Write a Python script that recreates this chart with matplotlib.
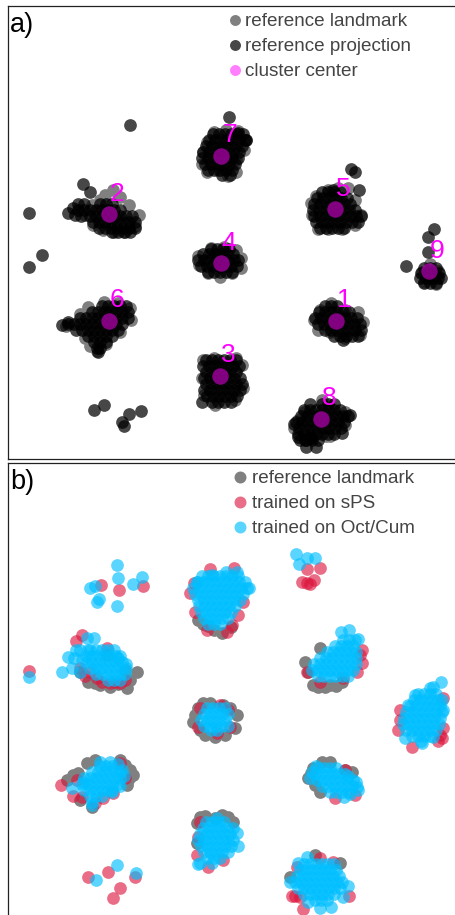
from __future__ import annotations

import matplotlib as mpl
import matplotlib.pyplot as plt
import numpy as np

# embedding coordinates, one row per cluster
A_LANDMARK = [
    (214, 132), (226, 130), (238, 131), (246, 140), (244, 150), (236, 160), (236, 172), (228, 176), (218, 170), (207, 172), (202, 164), (203, 152), (207, 142), (220, 150),
    (105, 195), (113, 190), (120, 197), (129, 205), (139, 215), (135, 226), (125, 232), (114, 232), (103, 230), (93, 225), (85, 215), (92, 205), (100, 200),
    (316, 196), (328, 190), (338, 188), (348, 188), (355, 200), (361, 215), (355, 225), (342, 229), (328, 229), (318, 229), (312, 215), (311, 203),
    (211, 248), (224, 247), (236, 250), (241, 258), (241, 268), (232, 273), (220, 277), (208, 273), (199, 265), (198, 256),
    (430, 264), (422, 272), (438, 271), (424, 282), (436, 284),
    (88, 307), (80, 314), (66, 326), (85, 338), (90, 346), (97, 351), (106, 344), (120, 332), (131, 320), (130, 308), (118, 303), (104, 302),
    (320, 310), (331, 303), (345, 310), (358, 312), (363, 322), (360, 335), (345, 338), (330, 332), (318, 330), (314, 320),
    (203, 360), (214, 358), (236, 358), (242, 365), (243, 388), (235, 400), (215, 405), (204, 395), (202, 378),
    (322, 400), (304, 412), (298, 420), (294, 428), (345, 412), (345, 425), (330, 436), (310, 438), (326, 436),
]

A_PROJECTION = [
    (229, 117), (83, 184), (90, 192), (68, 213), (29, 213), (130, 125), (73, 208), (75, 215),
    (351, 169), (355, 172), (359, 190), (434, 229), (428, 237), (428, 252), (406, 266),
    (62, 325), (68, 322), (98, 352), (246, 140), (238, 133), (333, 190),
    (298, 437), (305, 440), (306, 447), (316, 447), (311, 438), (294, 424), (350, 415), (342, 433),
    (94, 410), (104, 405), (129, 414), (141, 411), (122, 422), (124, 426), (29, 267), (42, 255), (202, 402),
]

# row-wise reading of the dense cores: (y, x values)
A_PROJECTION_ROWS = [
    (134, (213, 219, 225, 231, 237, 243)), (140, (209, 215, 221, 227, 233, 239, 245)), (146, (206, 212, 218, 224, 230, 236, 242)),
    (152, (203, 209, 215, 221, 227, 233, 239)), (158, (202, 208, 214, 220, 226, 232, 238)), (164, (205, 211, 217, 223, 229, 235)),
    (170, (208, 214, 220, 226, 232)), (175, (222, 230)),
    (204, (78, 84, 100, 106, 112)), (210, (78, 84, 90, 96, 102, 108, 114, 120)), (216, (81, 90, 96, 102, 108, 114, 120, 126, 132)),
    (222, (93, 99, 105, 111, 117, 123, 129, 135)), (228, (99, 105, 111, 117, 123, 129, 135)), (232, (112, 118, 124, 130)),
    (192, (322, 328, 334, 340)), (198, (317, 323, 329, 335, 341, 347)), (204, (314, 320, 326, 332, 338, 344, 350)),
    (210, (313, 319, 325, 331, 337, 343, 349, 355)), (216, (314, 320, 326, 332, 338, 344, 350, 356, 361)),
    (222, (316, 322, 328, 334, 340, 346, 352, 358)), (228, (320, 326, 332, 338, 344)),
    (249, (211, 217, 223, 229)), (254, (203, 209, 215, 221, 227, 233)), (260, (198, 204, 210, 216, 222, 228, 234, 238)),
    (266, (201, 207, 213, 219, 225, 231, 237)), (272, (208, 214, 220, 226, 232)),
    (268, (424, 430, 436)), (273, (421, 427, 433, 439)), (278, (420, 426, 432, 438, 441)), (283, (424, 430, 436)),
    (306, (102, 108, 114, 120, 126)), (312, (92, 98, 104, 110, 116, 122, 128)), (318, (80, 86, 92, 98, 104, 110, 116, 122, 128)),
    (324, (68, 74, 80, 86, 92, 98, 104, 110, 116, 122)), (330, (76, 82, 88, 94, 100, 106, 112, 118)), (336, (88, 94, 100, 106, 112)),
    (342, (94, 100, 106)), (348, (97, 100)),
    (306, (325, 331, 337)), (312, (319, 325, 331, 337, 343, 349)), (318, (315, 321, 327, 333, 339, 345, 351, 357)),
    (324, (318, 324, 330, 336, 342, 348, 354, 360)), (330, (325, 331, 337, 343, 349, 355, 361)), (336, (334, 340, 346, 352, 358)), (340, (343,)),
    (360, (206, 212, 218, 224, 230, 236)), (366, (203, 209, 215, 221, 227, 233, 239)), (372, (206, 212, 218, 224, 230, 236)),
    (378, (204, 210, 216, 222, 228, 234, 240)), (384, (206, 212, 218, 224, 230, 236, 242)), (390, (204, 210, 216, 222, 228, 234, 240)),
    (396, (207, 213, 219, 225, 231, 237)), (402, (212, 218, 224, 231)),
    (404, (310, 322, 328, 334)), (410, (304, 310, 316, 322, 328, 334, 340)), (416, (301, 307, 313, 319, 325, 331, 337, 343, 348)),
    (422, (296, 302, 308, 314, 320, 326, 332, 338, 344)), (428, (299, 305, 311, 317, 323, 329, 335, 341)),
    (434, (298, 304, 310, 316, 322, 328, 334)), (440, (300, 306, 312, 318)),
]

CENTER_X = [336, 109, 220, 221, 335, 109, 221, 321, 429]
CENTER_Y = [321, 214, 376, 263, 209, 321, 156, 419, 271]
CENTER_LABELS = ["1", "2", "3", "4", "5", "6", "7", "8", "9"]
LABEL_X = [344, 117, 228, 229, 343, 117, 230, 329, 437]
LABEL_Y = [300, 194, 355, 243, 189, 300, 135, 398, 251]

B_LANDMARK = [
    (198, 620), (208, 626), (222, 633), (231, 627), (214, 630), (203, 624),
    (137, 672), (127, 688), (110, 687), (88, 682), (80, 672), (107, 655), (125, 670), (118, 684), (100, 685), (95, 683), (130, 680),
    (305, 662), (313, 685), (330, 685), (342, 682), (308, 672), (320, 648), (318, 687), (325, 687), (336, 686),
    (203, 703), (195, 715), (200, 730), (215, 737), (235, 728), (237, 715), (223, 705), (198, 708), (193, 722), (205, 735), (225, 735), (230, 708), (210, 703),
    (87, 763), (120, 760), (130, 777), (128, 780), (130, 770), (67, 780), (78, 773), (92, 807), (80, 800), (73, 775), (125, 765), (95, 760), (133, 775), (127, 785),
    (313, 768), (308, 778), (322, 762), (352, 772), (320, 792), (315, 785), (345, 770), (330, 762), (311, 773),
    (200, 817), (222, 815), (233, 822), (197, 843), (197, 823), (205, 816), (215, 818), (228, 817),
    (315, 855), (290, 877), (340, 863),
]

B_SPS = [
    (210, 569), (234, 568), (190, 593), (194, 583), (195, 612), (207, 630), (227, 632), (238, 615), (243, 602), (232, 625),
    (82, 635), (76, 641), (97, 678), (125, 680), (107, 648), (90, 672), (80, 668), (115, 682), (29, 671), (85, 676), (102, 682), (110, 683), (120, 683),
    (101, 585), (119, 590), (143, 586),
    (307, 569), (320, 568), (302, 582), (307, 583), (314, 580), (310, 584),
    (362, 650), (362, 663), (360, 655), (320, 682), (307, 672), (343, 678), (357, 672),
    (412, 747), (442, 738), (400, 710), (398, 730), (443, 698), (443, 728), (440, 735), (438, 741), (400, 720),
    (200, 708), (220, 705), (228, 710), (230, 727), (217, 733), (198, 727),
    (61, 785), (73, 796), (82, 797), (103, 798), (120, 763), (125, 778), (113, 793), (77, 780), (95, 803),
    (335, 798), (355, 795), (345, 770),
    (200, 822), (197, 855), (208, 867), (223, 860), (198, 837),
    (292, 896), (295, 896), (300, 897), (303, 909), (349, 896), (333, 862), (320, 858), (297, 867),
    (88, 877), (108, 872), (135, 877), (120, 888), (113, 898),
]

B_OCT_CUM = [
    (226, 572), (237, 572), (249, 588), (212, 575), (197, 582),
    (94, 638), (87, 638), (76, 650), (68, 657), (62, 672), (72, 668), (80, 672), (80, 650), (82, 660), (74, 658), (29, 677),
    (88, 650), (118, 658), (126, 664),
    (117, 565), (118, 578), (90, 588), (95, 586), (133, 584), (142, 577), (99, 599), (97, 602), (117, 606),
    (296, 554), (307, 558), (315, 558), (299, 564),
    (341, 632), (349, 630), (358, 639),
    (441, 682), (430, 688), (433, 687), (415, 695), (408, 705), (405, 738), (422, 743), (433, 737), (443, 710),
    (72, 788), (92, 805), (83, 782), (100, 762), (110, 762), (118, 764), (122, 770), (124, 776), (120, 786), (112, 792),
    (344, 797), (357, 787), (312, 772), (310, 778), (316, 766), (348, 776), (356, 782), (358, 790), (350, 794),
    (198, 864), (200, 863), (238, 846), (237, 833), (217, 818),
    (307, 857), (298, 863), (290, 882), (348, 886), (320, 908), (331, 907), (308, 902), (343, 897),
    (117, 865), (96, 880), (136, 873),
]

B_OCT_CUM_ROWS = [
    (576, (202, 208, 214, 220, 226, 232, 238)), (582, (197, 203, 209, 215, 221, 227, 233, 239, 245)), (588, (193, 199, 205, 211, 217, 223, 229, 235, 241, 247)),
    (594, (195, 201, 207, 213, 219, 225, 231, 237, 243)), (600, (198, 204, 210, 216, 222, 228, 234, 240)), (606, (199, 205, 211, 217, 223, 229, 235)),
    (612, (201, 207, 213, 219, 225, 231)), (618, (204, 210, 216, 222, 228)), (624, (208, 214, 220)),
    (650, (90, 96, 102, 108, 114)), (656, (86, 92, 98, 104, 110, 116, 120)), (662, (86, 92, 98, 104, 110, 116, 122)),
    (668, (90, 96, 102, 108, 114, 120, 126)), (674, (96, 102, 108, 114, 120, 125)), (680, (108, 114, 120)),
    (640, (343, 349, 355)), (646, (335, 341, 347, 353)), (652, (327, 333, 339, 345, 351, 356)), (658, (320, 326, 332, 338, 344, 350, 356)),
    (664, (314, 320, 326, 332, 338, 344, 350, 356)), (670, (312, 318, 324, 330, 336, 342, 348, 353)), (676, (318, 324, 330, 336, 342, 348)),
    (694, (418, 424, 430, 436)), (700, (414, 420, 426, 432, 438, 442)), (706, (410, 416, 422, 428, 434, 440)), (712, (406, 412, 418, 424, 430, 436, 442)),
    (718, (404, 410, 416, 422, 428, 434, 440)), (724, (403, 409, 415, 421, 427, 433, 439)), (730, (406, 412, 418, 424, 430, 436)),
    (736, (412, 418, 424, 430)), (741, (421,)),
    (708, (207, 213, 219, 225)), (714, (204, 210, 216, 222, 228)), (720, (201, 207, 213, 219, 225)), (726, (204, 210, 216, 222, 228)), (730, (211, 217)),
    (766, (100, 106, 112)), (772, (92, 98, 104, 110, 116, 120)), (778, (84, 90, 96, 102, 108, 114, 120)), (784, (82, 88, 94, 100, 106, 112, 118)),
    (790, (84, 90, 96, 102, 108, 112)), (796, (90, 96, 102)), (802, (92,)),
    (768, (318, 324, 330, 336)), (774, (315, 321, 327, 333, 339, 345)), (780, (317, 323, 329, 335, 341, 347, 353)),
    (786, (322, 328, 334, 340, 346, 352)), (792, (330, 336, 342, 348)),
    (822, (206, 212, 218, 224)), (828, (203, 209, 215, 221, 227, 233)), (834, (200, 206, 212, 218, 224, 230)), (840, (198, 204, 210, 216, 222, 228, 233)),
    (846, (201, 207, 213, 219, 225, 231)), (852, (204, 210, 216, 222, 228)), (858, (208, 214, 220)), (863, (212,)),
    (864, (304, 310, 316, 322, 328, 334)), (870, (300, 306, 312, 318, 324, 330, 336)), (876, (297, 303, 309, 315, 321, 327, 333, 339)),
    (882, (295, 301, 307, 313, 319, 325, 331, 337, 342)), (888, (298, 304, 310, 316, 322, 328, 334, 340)), (894, (304, 310, 316, 322, 328, 334)), (900, (315, 321, 327)),
]

A_LEGEND = ["reference landmark", "reference projection", "cluster center"]
B_LEGEND = ["reference landmark", "trained on sPS", "trained on Oct/Cum"]

W, H = 455, 915
GREY = "#808080"
TEXT = "#444444"
POINT = 84
CENTER = 140
LEGEND_A = 62


def add_panel(fig, left, top, right, bottom):
    ax = fig.add_axes([left / W, 1 - bottom / H, (right - left) / W, (bottom - top) / H])
    ax.set_xlim(left, right)
    ax.set_ylim(bottom, top)
    ax.set_xticks([])
    ax.set_yticks([])
    for spine in ax.spines.values():
        spine.set_linewidth(0.9)
        spine.set_color("#222222")
    return ax


def rows_to_points(rows):
    return [(x, y) for y, xs in rows for x in xs]


def scatter(ax, points, **kwargs):
    xy = np.array(points)
    ax.scatter(xy[:, 0], xy[:, 1], linewidths=0, clip_on=True, **kwargs)


def legend_rows(ax, labels, styles, x_marker, x_text, ys, size):
    for label, style, y in zip(labels, styles, ys):
        ax.scatter([x_marker], [y], s=size, linewidths=0, **style)
        ax.text(x_text, y + 1.5, label, color=TEXT, fontsize=13.6, va="center", ha="left")


def main() -> None:
    mpl.rcParams["font.family"] = ["Liberation Sans", "DejaVu Sans"]
    fig = plt.figure(figsize=(W / 100, H / 100), dpi=100)

    ax_a = add_panel(fig, 8, 6, 462, 459)
    scatter(ax_a, A_LANDMARK, s=POINT, color=GREY)
    scatter(ax_a, A_PROJECTION + rows_to_points(A_PROJECTION_ROWS), s=POINT, color="black", alpha=0.72)
    ax_a.scatter(CENTER_X, CENTER_Y, s=CENTER, color="magenta", alpha=0.5, linewidths=0)
    for x, y, label in zip(LABEL_X, LABEL_Y, CENTER_LABELS):
        ax_a.text(x, y, label, color="magenta", fontsize=19, ha="center", va="center")
    ax_a.text(10, 25, "a)", color="black", fontsize=19.5, ha="left", va="center")
    legend_rows(
        ax_a, A_LEGEND,
        [{"color": GREY}, {"color": "black", "alpha": 0.72}, {"color": "magenta", "alpha": 0.5}],
        234.5, 245, [20, 45, 70], LEGEND_A,
    )

    ax_b = add_panel(fig, 8, 463, 462, 922)
    scatter(ax_b, B_LANDMARK, s=POINT, color=GREY)
    scatter(ax_b, B_SPS, s=POINT, color="crimson", alpha=0.62)
    scatter(ax_b, B_OCT_CUM + rows_to_points(B_OCT_CUM_ROWS), s=POINT, color="deepskyblue", alpha=0.65)
    ax_b.text(10, 482, "b)", color="black", fontsize=19.5, ha="left", va="center")
    legend_rows(
        ax_b, B_LEGEND,
        [{"color": GREY}, {"color": "crimson", "alpha": 0.62}, {"color": "deepskyblue", "alpha": 0.65}],
        239.5, 252, [477, 502, 527], LEGEND_A + 12,
    )

    fig.savefig("out.png", dpi=100)
    plt.close(fig)


if __name__ == "__main__":
    main()
